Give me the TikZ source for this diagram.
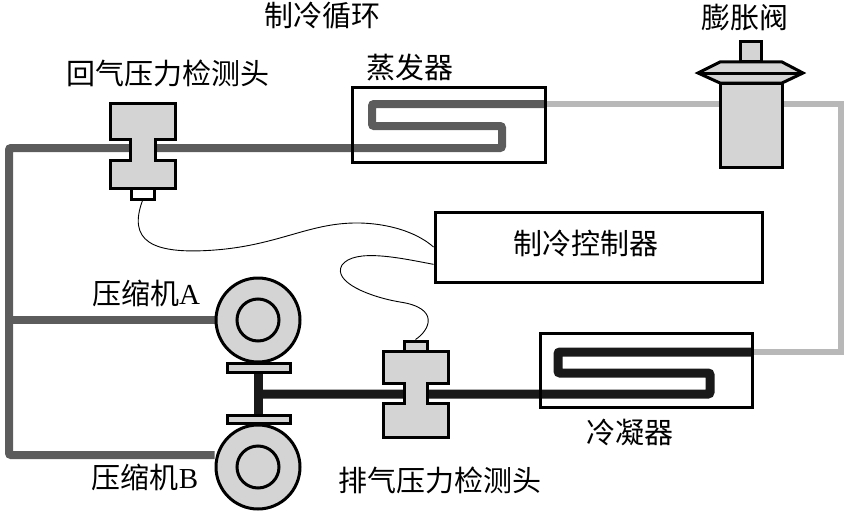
\documentclass[tikz,border=0pt]{standalone}
\usepackage{fontspec}
\setmainfont{Liberation Serif}
\newfontfamily\cjk{Noto Sans CJK SC}
\usetikzlibrary{positioning,backgrounds}
\definecolor{pipedark}{gray}{0.36}
\definecolor{pipelight}{gray}{0.72}
\definecolor{partgray}{gray}{0.83}

\begin{document}
\begin{tikzpicture}[x=1pt, y=-1pt,
    lbl/.style={font=\cjk\fontsize{29}{32}\selectfont, inner sep=0pt},
    frame/.style={rectangle, draw, line width=3pt, inner sep=0pt},
    part/.style={draw, line width=3pt, fill=partgray},
    suction/.style={draw=pipedark, line width=8pt, rounded corners=2pt},
    liquid/.style={draw=pipelight, line width=6pt},
    discharge/.style={draw=black!90, line width=9pt, rounded corners=2pt},
    wire/.style={draw, line width=0.9pt}]
    \useasboundingbox (0,0) rectangle (848,511);

    % Labels
    \node[lbl] (title) at (322,16) {制冷循环};
    \node[lbl] (valvelbl) at (745,18) {膨胀阀};
    \node[lbl] (rslbl) at (168,73) {回气压力检测头};
    \node[lbl] (evaplbl) at (410,68) {蒸发器};
    \node[lbl] (complblA) at (146,293) {压缩机\rmfamily A};
    \node[lbl] (complblB) at (145,477) {压缩机\rmfamily B};
    \node[lbl] (dslbl) at (440,480) {排气压力检测头};
    \node[lbl] (condlbl) at (630,432) {冷凝器};

    % Heat exchangers and controller
    \node[frame, minimum width=193pt, minimum height=75pt] (evap) at (448.5,124.5) {};
    \node[frame, minimum width=212pt, minimum height=74pt] (cond) at (646,370) {};
    \node[frame, minimum width=327pt, minimum height=70pt] (ctrl) at (598.5,247) {};
    \node[lbl] (ctrllbl) at (586,243) {制冷控制器};

    % Compressors
    \node[circle, part, minimum size=84pt, inner sep=0pt] (compA) at (258,320) {};
    \node[circle, draw, line width=3pt, minimum size=42pt, inner sep=0pt] (compAin) at (compA.center) {};
    \node[circle, part, minimum size=84pt, inner sep=0pt] (compB) at (258,467) {};
    \node[circle, draw, line width=3pt, minimum size=42pt, inner sep=0pt] (compBin) at (compB.center) {};
    \node[rectangle, part, minimum width=63pt, minimum height=9pt, inner sep=0pt] (plateA) at (258.5,367.5) {};
    \node[rectangle, part, minimum width=63pt, minimum height=8pt, inner sep=0pt] (plateB) at (258.5,419) {};

    % Return pressure sensor
    \draw[part] (110,103) -- (175,103) -- (175,139) -- (155,139) -- (155,160) -- (175,160) -- (175,188)
        -- (110,188) -- (110,160) -- (130,160) -- (130,139) -- (110,139) -- cycle;
    \node[rectangle, draw, line width=3pt, fill=white, minimum width=23pt, minimum height=11pt, inner sep=0pt] (rsport) at (142.5,193.5) {};

    % Discharge pressure sensor
    \draw[part] (383,351) -- (448,351) -- (448,383) -- (427,383) -- (427,403) -- (448,403) -- (448,437)
        -- (383,437) -- (383,403) -- (404,403) -- (404,383) -- (383,383) -- cycle;
    \node[rectangle, part, minimum width=23pt, minimum height=10pt, inner sep=0pt] (dsport) at (415.5,346) {};

    % Expansion valve
    \draw[part] (740,42) rectangle (761,62);
    \draw[part] (698,73) -- (720,62) -- (782,62) -- (803,73) -- (782,83) -- (720,83) -- cycle;
    \draw[line width=3pt] (698,73) -- (803,73);
    \node[rectangle, part, minimum width=62pt, minimum height=84pt, inner sep=0pt] (valve) at (751,125) {};

    % Pipes
    \begin{scope}[on background layer]
        \draw[suction] ([yshift=12pt]compB.west) -| (9,148) -- (502,148) -- (502,126) -- (372,126) -- (372,104) -- (545,104);
        \draw[suction] (compA.west) -- (9,320);
        \draw[liquid] (545,104) -- (841,104) -- (841,352) -- (752,352);
        \draw[discharge] (752,352) -- (558,352) -- (558,373) -- (710,373) -- (710,394) -- (258,394);
        \draw[discharge] (plateA.center) -- (plateB.center);
    \end{scope}

    % Sensor wires
    \draw[wire] (rsport.south) .. controls (128,240) and (150,255) .. (215,250)
        .. controls (280,245) and (310,222) .. (360,223) .. controls (395,224) and (420,235) .. (ctrl.west);
    \draw[wire] (ctrl.186) .. controls (400,258) and (355,248) .. (342,265)
        .. controls (332,282) and (370,297) .. (400,302) .. controls (440,308) and (430,330) .. (dsport.north);
\end{tikzpicture}
\end{document}
